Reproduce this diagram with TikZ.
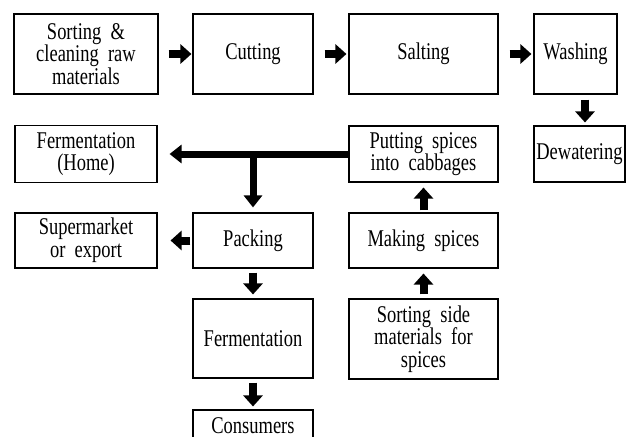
\documentclass[tikz,border=0pt]{standalone}
\usepackage{fontspec}
\setmainfont{Liberation Serif}[FakeStretch=0.77]
\usetikzlibrary{arrows.meta}
\tikzset{
  box/.style={draw=black, line width=1.1pt, align=center, inner sep=0pt,
    font=\fontsize{24}{22.7}\selectfont},
  blk/.style={line width=8pt, -{Triangle[length=11pt,width=19pt]}},
  big/.style={line width=7pt, -{Triangle[length=12pt,width=18pt]}},
}
\begin{document}
\begin{tikzpicture}[x=1pt,y=-1pt]
\useasboundingbox (0,0) rectangle (633,437);
\clip (0,0) rectangle (633,437);
\node[box, minimum width=144pt, minimum height=80pt] (sort) at (86,54) {Sorting \ \&\\cleaning \ raw\\materials};
\node[box, minimum width=120pt, minimum height=80pt] (cut) at (253,54) {Cutting};
\node[box, minimum width=149pt, minimum height=80pt] (salt) at (423.5,54) {Salting};
\node[box, minimum width=83pt, minimum height=80pt] (wash) at (575.5,54) {Washing};
\node[box, minimum width=91pt, minimum height=56pt] (dew) at (579.5,154) {Dewatering};
\node[box, minimum width=149pt, minimum height=56pt] (put) at (423.5,154) {Putting \ spices\\into \ cabbages};
\node[box, minimum width=142pt, minimum height=57pt] (fhome) at (86,154) {Fermentation\\(Home)};
\node[box, minimum width=142pt, minimum height=55pt] (super) at (86,240.5) {Supermarket\\or \ export};
\node[box, minimum width=120pt, minimum height=55pt] (pack) at (253,240.5) {Packing};
\node[box, minimum width=149pt, minimum height=55pt] (make) at (423.5,240.5) {Making \ spices};
\node[box, minimum width=120pt, minimum height=79pt] (ferm) at (253,338.5) {Fermentation};
\node[box, minimum width=149pt, minimum height=80pt] (sside) at (423.5,339) {Sorting \ side\\materials \ for\\spices};
\node[box, minimum width=120pt, minimum height=32pt] (cons) at (253,426) {Consumers};

\draw[blk] ([xshift=10pt]sort.east) -- ([xshift=-1pt]cut.west);
\draw[blk] ([xshift=11pt]cut.east) -- ([xshift=-2pt]salt.west);
\draw[blk] ([xshift=11pt]salt.east) -- ([xshift=-2pt]wash.west);
\draw[blk] ([xshift=9.5pt,yshift=-5pt]wash.south) -- ([xshift=5.5pt,yshift=3pt]dew.north);
\draw[big] (put.west) -- ([xshift=12pt]fhome.east);
\draw[big] (pack.north |- put.west) -- ([yshift=5pt]pack.north);
\draw[blk] ([xshift=-2pt]pack.west) -- ([xshift=13pt]super.east);
\draw[blk] ([yshift=-4pt]pack.south) -- ([yshift=4pt]ferm.north);
\draw[blk] ([yshift=-4pt]ferm.south) -- ([yshift=3pt]cons.north);
\draw[blk] ([yshift=4pt]sside.north) -- ([yshift=-5pt]make.south);
\draw[blk] ([yshift=2pt]make.north) -- ([yshift=-5pt]put.south);
\end{tikzpicture}
\end{document}
